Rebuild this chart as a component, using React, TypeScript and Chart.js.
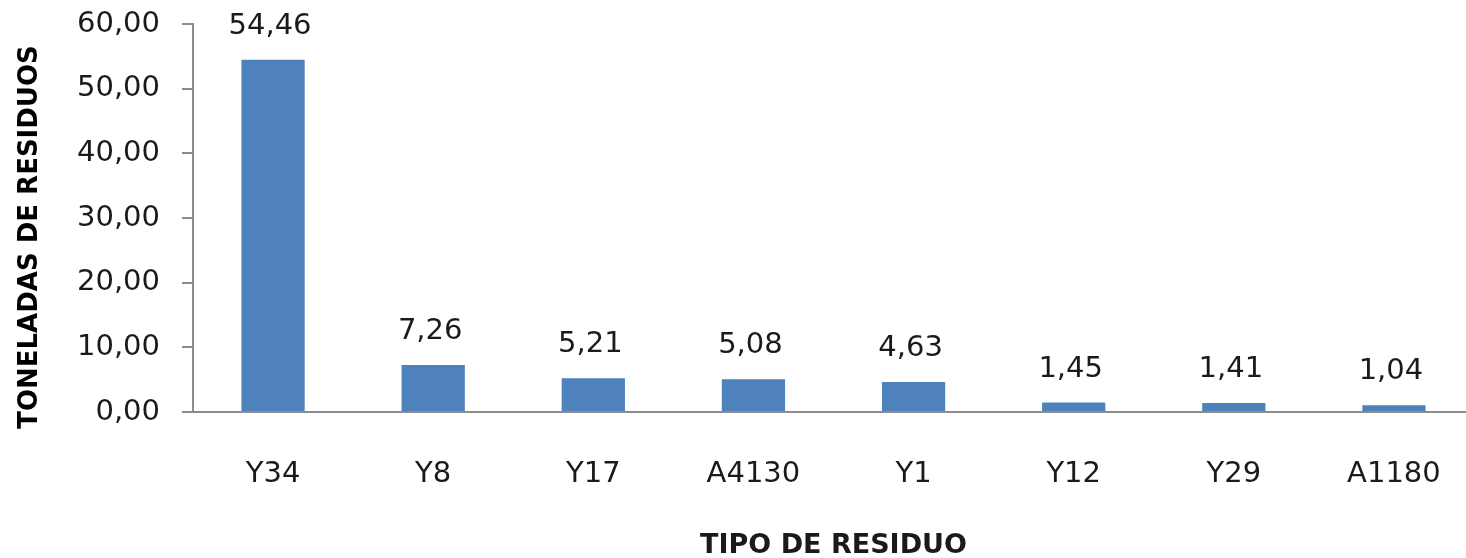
import React, { useEffect, useRef } from "react";
import { Chart, registerables } from "chart.js";

Chart.register(...registerables);

const categories = ["Y34", "Y8", "Y17", "A4130", "Y1", "Y12", "Y29", "A1180"];
const tonnes = [54.46, 7.26, 5.21, 5.08, 4.63, 1.45, 1.41, 1.04];
const yTicks = [0, 10, 20, 30, 40, 50, 60];
const yTitle = "TONELADAS DE RESIDUOS";
const xTitle = "TIPO DE RESIDUO";

const fmt = (v: number) => v.toFixed(2).replace(".", ",");

const CANVAS_W = 1480;
const CANVAS_H = 580;
const FONT = "'DejaVu Sans', Verdana, sans-serif";

const valueLabels = {
  id: "valueLabels",
  afterDatasetsDraw(chart: any) {
    const ctx = chart.ctx;
    const meta = chart.getDatasetMeta(0);
    ctx.save();
    ctx.font = `29px ${FONT}`;
    ctx.fillStyle = "#1a1a1a";
    ctx.textAlign = "center";
    ctx.textBaseline = "alphabetic";
    meta.data.forEach((bar: any, i: number) => {
      ctx.fillText(fmt(tonnes[i]), bar.x - 3, bar.y - 26);
    });
    ctx.restore();
  },
};

const yTitlePlugin = {
  id: "yTitlePlugin",
  afterDraw(chart: any) {
    const ctx = chart.ctx;
    ctx.save();
    ctx.font = `bold 26px ${FONT}`;
    ctx.fillStyle = "#000";
    ctx.textAlign = "center";
    ctx.textBaseline = "middle";
    ctx.translate(30, 237);
    ctx.rotate(-Math.PI / 2);
    ctx.fillText(yTitle, 0, 0);
    ctx.restore();
  },
};

export default function App() {
  const ref = useRef<HTMLCanvasElement | null>(null);
  useEffect(() => {
    if (!ref.current) return;
    const chart = new Chart(ref.current, {
      type: "bar",
      data: {
        labels: categories,
        datasets: [
          {
            data: tonnes,
            backgroundColor: "#4f81bd",
            borderWidth: 0,
            barPercentage: 0.395,
            categoryPercentage: 1,
          },
        ],
      },
      plugins: [valueLabels, yTitlePlugin],
      options: {
        responsive: false,
        animation: false,
        maintainAspectRatio: false,
        layout: { padding: { top: 24, right: 6, left: 0, bottom: 0 } },
        plugins: { legend: { display: false }, tooltip: { enabled: false } },
        scales: {
          x: {
            grid: { display: false, drawTicks: false },
            border: { display: true, color: "#8c8c8c", width: 2 },
            ticks: {
              color: "#1a1a1a",
              font: { family: FONT, size: 29 },
              padding: 45,
              maxRotation: 0,
              autoSkip: false,
            },
            title: {
              display: true,
              text: xTitle,
              color: "#1a1a1a",
              font: { family: FONT, size: 27, weight: "bold" },
              padding: { top: 0, bottom: 18 },
            },
            afterFit: (s: any) => {
              s.height = CANVAS_H - 412;
              s.paddingLeft = 0;
              s.paddingRight = 0;
            },
          },
          y: {
            min: 0,
            max: 60,
            afterBuildTicks: (s: any) => {
              s.ticks = yTicks.map((v) => ({ value: v }));
            },
            grid: {
              display: true,
              drawOnChartArea: false,
              drawTicks: true,
              tickLength: 11,
              color: "#8c8c8c",
              lineWidth: 2,
            },
            border: { display: true, color: "#8c8c8c", width: 2 },
            ticks: {
              color: "#1a1a1a",
              font: { family: FONT, size: 29 },
              padding: 22,
              callback: (v: any) => fmt(Number(v)),
            },
            afterFit: (s: any) => {
              s.width = 193;
              s.paddingTop = 0;
              s.paddingBottom = 0;
            },
          },
        },
      },
    });
    return () => chart.destroy();
  }, []);
  return (
    <div
      style={{
        position: "fixed",
        left: 0,
        top: 0,
        width: CANVAS_W,
        height: CANVAS_H,
        background: "#fff",
      }}
    >
      <canvas ref={ref} width={CANVAS_W} height={CANVAS_H} style={{ width: CANVAS_W, height: CANVAS_H }} />
    </div>
  );
}
